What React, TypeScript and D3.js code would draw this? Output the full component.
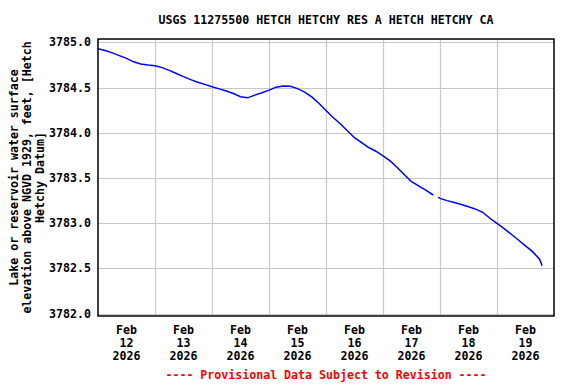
import React from 'react';
import * as d3 from 'd3';

const title = 'USGS 11275500 HETCH HETCHY RES A HETCH HETCHY CA';
const yTitle = [
  'Lake or reservoir water surface',
  'elevation above NGVD 1929, feet, [Hetch',
  'Hetchy Datum]',
];
const footer = '---- Provisional Data Subject to Revision ----';

const yTicks = [3782.0, 3782.5, 3783.0, 3783.5, 3784.0, 3784.5, 3785.0];
const dayTicks = ['2026-02-12', '2026-02-13', '2026-02-14', '2026-02-15', '2026-02-16', '2026-02-17', '2026-02-18', '2026-02-19'];

// gage height readings, null = gap in record
const times = [
  '2026-02-12T00:00', '2026-02-12T03:00', '2026-02-12T06:00', '2026-02-12T09:00', '2026-02-12T12:00', '2026-02-12T15:00', '2026-02-12T18:00', '2026-02-12T21:00',
  '2026-02-13T00:00', '2026-02-13T03:00', '2026-02-13T06:00', '2026-02-13T09:00', '2026-02-13T12:00', '2026-02-13T15:00', '2026-02-13T18:00', '2026-02-13T21:00',
  '2026-02-14T00:00', '2026-02-14T03:00', '2026-02-14T06:00', '2026-02-14T09:00', '2026-02-14T12:00', '2026-02-14T15:00', '2026-02-14T18:00', '2026-02-14T21:00',
  '2026-02-15T00:00', '2026-02-15T03:00', '2026-02-15T06:00', '2026-02-15T09:00', '2026-02-15T12:00', '2026-02-15T15:00', '2026-02-15T18:00', '2026-02-15T21:00',
  '2026-02-16T00:00', '2026-02-16T03:00', '2026-02-16T06:00', '2026-02-16T09:00', '2026-02-16T12:00', '2026-02-16T15:00', '2026-02-16T18:00', '2026-02-16T21:00',
  '2026-02-17T00:00', '2026-02-17T03:00', '2026-02-17T06:00', '2026-02-17T09:00', '2026-02-17T12:00', '2026-02-17T15:00', '2026-02-17T18:00', '2026-02-17T21:00',
  '2026-02-17T21:15', '2026-02-17T22:15', '2026-02-17T23:15',
  '2026-02-18T00:00', '2026-02-18T03:00', '2026-02-18T06:00', '2026-02-18T09:00', '2026-02-18T12:00', '2026-02-18T15:00', '2026-02-18T18:00', '2026-02-18T21:00',
  '2026-02-19T00:00', '2026-02-19T03:00', '2026-02-19T06:00', '2026-02-19T09:00', '2026-02-19T12:00', '2026-02-19T15:00', '2026-02-19T18:00', '2026-02-19T19:00',
];
const elevation: (number | null)[] = [
  3784.928, 3784.910, 3784.883, 3784.853, 3784.822, 3784.784, 3784.761, 3784.748,
  3784.740, 3784.720, 3784.690, 3784.655, 3784.620, 3784.588, 3784.558, 3784.535,
  3784.509, 3784.485, 3784.461, 3784.434, 3784.398, 3784.386, 3784.416, 3784.442,
  3784.471, 3784.504, 3784.518, 3784.514, 3784.488, 3784.449, 3784.396, 3784.327,
  3784.247, 3784.168, 3784.099, 3784.023, 3783.945, 3783.891, 3783.837, 3783.796,
  3783.745, 3783.689, 3783.617, 3783.535, 3783.461, 3783.414, 3783.367, 3783.315,
  3783.312, null, 3783.288,
  3783.275, 3783.250, 3783.230, 3783.208, 3783.182, 3783.156, 3783.121, 3783.055,
  3782.998, 3782.941, 3782.878, 3782.815, 3782.750, 3782.686, 3782.600, 3782.529,
];

const W = 576;
const H = 384;
const left = 98, right = 554, top = 39, bottom = 316;
const font = "'DejaVu Sans Mono', monospace";
const fs = 11.6;

const utc = (s: string) => new Date(s + 'Z');

export default function App() {
  const x = d3.scaleUtc()
    .domain([utc('2026-02-12T00:00'), utc('2026-02-20T00:00')])
    .range([left, right]);
  const y = d3.scaleLinear().domain([3782, 3785]).range([313.7, 42.3]);

  const pts = times.map((t, i) => ({ t: utc(t), v: elevation[i] }));
  const line = d3.line<{ t: Date; v: number | null }>()
    .defined(d => d.v !== null)
    .x(d => x(d.t))
    .y(d => y(d.v as number));

  const cx = (left + right) / 2;

  return (
    <svg width={W} height={H} style={{ position: 'absolute', left: 0, top: 0, background: '#fff' }}
      fontFamily={font} fontWeight="bold" fontSize={fs}>
      <text x={cx} y={24} textAnchor="middle">{title}</text>

      {/* grid */}
      {yTicks.map(v => (
        <line key={'gy' + v} x1={left} x2={right} y1={Math.round(y(v)) + 0.5} y2={Math.round(y(v)) + 0.5}
          stroke="#c8c8c8" strokeWidth={1.2} />
      ))}
      {dayTicks.slice(1).map(d => {
        const px = Math.round(x(utc(d + 'T00:00'))) + 0.5;
        return <line key={'gx' + d} x1={px} x2={px} y1={top} y2={bottom} stroke="#c8c8c8" strokeWidth={1.2} />;
      })}

      <path d={line(pts) ?? ''} fill="none" stroke="#0000ff" strokeWidth={1.5} />

      <rect x={left} y={top} width={right - left} height={bottom - top} fill="none" stroke="#000" strokeWidth={1.5} />

      {/* y tick labels */}
      {yTicks.map(v => (
        <text key={'ty' + v} x={91} y={y(v) + 4} textAnchor="end">{d3.format('.1f')(v)}</text>
      ))}

      {/* x tick labels at noon */}
      {dayTicks.map(d => {
        const dt = utc(d + 'T12:00');
        const px = x(dt);
        return (
          <text key={'tx' + d} x={px} textAnchor="middle">
            <tspan x={px} y={334}>{d3.utcFormat('%b')(dt)}</tspan>
            <tspan x={px} y={347}>{d3.utcFormat('%d')(dt)}</tspan>
            <tspan x={px} y={360}>{d3.utcFormat('%Y')(dt)}</tspan>
          </text>
        );
      })}

      {/* y axis title */}
      <g transform={`translate(0, ${(top + bottom) / 2}) rotate(-90)`}>
        {yTitle.map((s, i) => (
          <text key={s} x={0} y={17.5 + i * 13} textAnchor="middle">{s}</text>
        ))}
      </g>

      <text x={cx} y={379} textAnchor="middle" fill="#ff0000">{footer}</text>
    </svg>
  );
}
